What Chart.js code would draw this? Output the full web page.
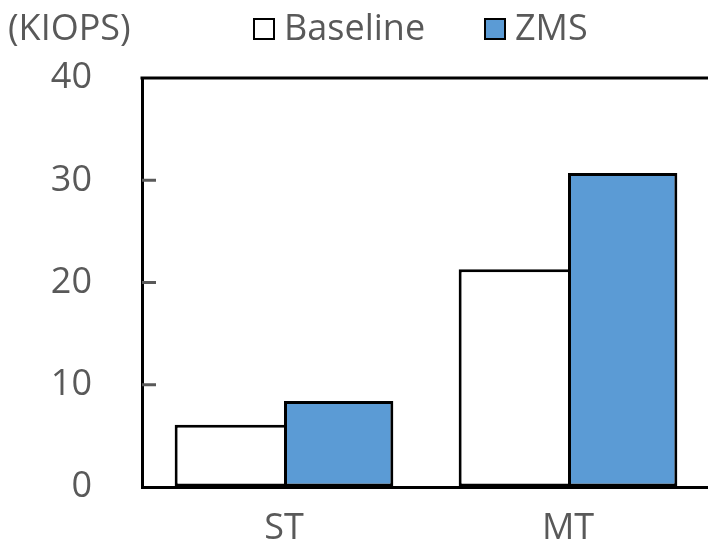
<!DOCTYPE html>
<html>
<head>
<meta charset="utf-8">
<script src="https://cdn.jsdelivr.net/npm/chart.js@4"></script>
<style>
  html, body { margin: 0; padding: 0; background: #fff; overflow: hidden; }
  #wrap { position: relative; width: 708px; height: 546px; overflow: hidden; }
  #chart { position: absolute; left: 0; top: 0; }
  .txt { position: absolute; font-family: 'Open Sans', sans-serif; font-size: 36px; color: #595959; line-height: 1; white-space: nowrap; }
  .box { position: absolute; width: 18px; height: 18px; border: 2px solid #000; }
</style>
</head>
<body>
<div id="wrap">
  <canvas id="chart" width="710" height="546"></canvas>
  <div class="txt" id="unit" style="left:8px; top:9px;"></div>
  <div id="legend"></div>
</div>
<script>
const categories = ['ST', 'MT'];
const baselineValues = [6.1, 21.3];
const zmsValues = [8.4, 30.7];
const yTicks = [0, 10, 20, 30, 40];
const unitLabel = '(KIOPS)';
const seriesNames = ['Baseline', 'ZMS'];
const seriesColors = ['#ffffff', '#5b9bd5'];

const textColor = '#595959';
const fontFamily = "'Open Sans', sans-serif";

document.getElementById('unit').textContent = unitLabel;

// legend built from the series arrays
const legend = document.getElementById('legend');
const legendX = [253, 484];
seriesNames.forEach((name, i) => {
  const box = document.createElement('div');
  box.className = 'box';
  box.style.left = legendX[i] + 'px';
  box.style.top = '18px';
  box.style.background = seriesColors[i];
  legend.appendChild(box);
  const label = document.createElement('div');
  label.className = 'txt';
  label.style.left = (legendX[i] + 31) + 'px';
  label.style.top = '9px';
  label.textContent = name;
  legend.appendChild(label);
});

// top frame line and short inward tick marks on the value axis
const framePlugin = {
  id: 'frame',
  afterDatasetsDraw(chart) {
    const ctx = chart.ctx;
    const area = chart.chartArea;
    const y = chart.scales.y;
    ctx.save();
    ctx.strokeStyle = '#000';
    ctx.lineWidth = 3;
    ctx.beginPath();
    ctx.moveTo(area.left - 1.5, area.top);
    ctx.lineTo(area.right, area.top);
    ctx.stroke();
    ctx.strokeStyle = textColor;
    yTicks.slice(1, -1).forEach(v => {
      const py = y.getPixelForValue(v);
      ctx.beginPath();
      ctx.moveTo(area.left, py);
      ctx.lineTo(area.left + 14, py);
      ctx.stroke();
    });
    ctx.restore();
  }
};

new Chart(document.getElementById('chart').getContext('2d'), {
  type: 'bar',
  data: {
    labels: categories,
    datasets: [
      {
        label: seriesNames[0],
        data: baselineValues,
        backgroundColor: seriesColors[0],
        borderColor: '#000',
        // right edge is shared with the ZMS bar, which draws it
        borderWidth: { top: 3, left: 3, bottom: 3, right: 0 },
        borderSkipped: false
      },
      {
        label: seriesNames[1],
        data: zmsValues,
        backgroundColor: seriesColors[1],
        borderColor: '#000',
        borderWidth: 3,
        borderSkipped: false
      }
    ]
  },
  options: {
    responsive: false,
    animation: false,
    layout: { padding: { top: 78, right: 0, left: 0, bottom: 0 } },
    datasets: { bar: { barPercentage: 1.0, categoryPercentage: 0.77 } },
    plugins: {
      legend: { display: false },
      tooltip: { enabled: false }
    },
    scales: {
      x: {
        grid: { display: false, drawTicks: false },
        border: { display: true, color: '#000', width: 3 },
        ticks: { color: textColor, font: { family: fontFamily, size: 36 }, padding: 20 },
        afterFit(scale) { scale.height = 59; }
      },
      y: {
        min: 0,
        max: 40,
        afterBuildTicks(scale) { scale.ticks = yTicks.map(v => ({ value: v })); },
        // invisible outer ticks push labels left without inflating the scale padding
        grid: { display: true, drawOnChartArea: false, drawTicks: true, tickLength: 42, tickColor: 'rgba(0,0,0,0)' },
        border: { display: true, color: '#000', width: 3 },
        ticks: { color: textColor, font: { family: fontFamily, size: 36 }, padding: 8 },
        afterFit(scale) { scale.width = 142; }
      }
    }
  },
  plugins: [framePlugin]
});
</script>
</body>
</html>
